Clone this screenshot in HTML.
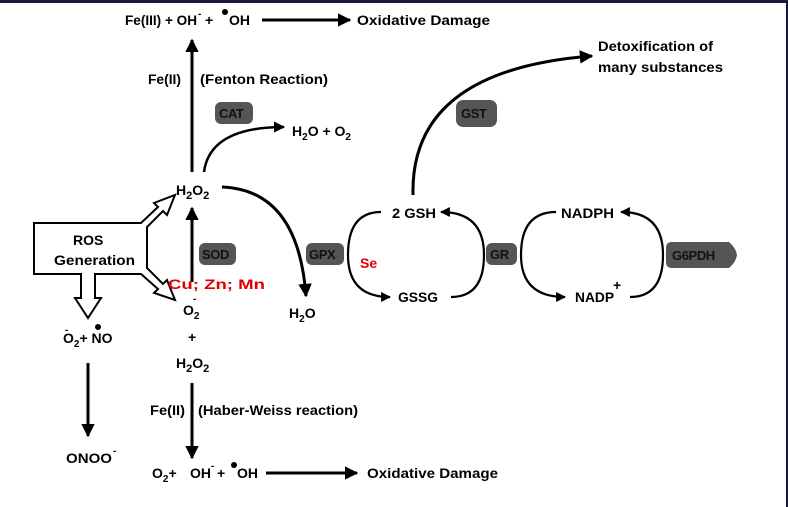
<!DOCTYPE html>
<html><head><meta charset="utf-8"><style>
html,body{margin:0;padding:0;background:#fff;}
svg{display:block;}
text{font-family:"Liberation Sans",sans-serif;font-weight:bold;font-size:14px;fill:#000;}
.e{fill:#111;font-size:13px;letter-spacing:-0.4px;}
.r{fill:#e00000;font-size:14px;}
.s{font-size:10px;}
</style></head><body>
<svg width="788" height="507" viewBox="0 0 788 507" xmlns="http://www.w3.org/2000/svg">
<defs>
<marker id="a" viewBox="0 0 10 10" refX="9" refY="5" markerWidth="4.5" markerHeight="4.5" orient="auto" markerUnits="strokeWidth"><path d="M0,0 L10,5 L0,10 z" fill="#000"/></marker>
</defs>
<rect x="0" y="0" width="788" height="3" fill="#1a1a40"/>
<rect x="786" y="0" width="2" height="507" fill="#1a1a40"/>

<!-- top line -->
<text x="125" y="25" textLength="72" lengthAdjust="spacingAndGlyphs">Fe(III) + OH</text>
<text x="198" y="17" class="s">-</text>
<text x="205" y="25">+</text>
<circle cx="225" cy="12" r="3" fill="#000"/>
<text x="229" y="25">OH</text>
<line x1="262" y1="20" x2="350" y2="20" stroke="#000" stroke-width="3" marker-end="url(#a)"/>
<text x="357" y="25" textLength="133" lengthAdjust="spacingAndGlyphs">Oxidative Damage</text>

<!-- Fenton arrow -->
<line x1="192" y1="172" x2="192" y2="40" stroke="#000" stroke-width="3" marker-end="url(#a)"/>
<text x="148" y="84" textLength="33" lengthAdjust="spacingAndGlyphs">Fe(II)</text>
<text x="200" y="84" textLength="128" lengthAdjust="spacingAndGlyphs">(Fenton Reaction)</text>

<!-- CAT -->
<rect x="215" y="102" width="38" height="22" rx="6" fill="#555"/>
<text x="219" y="118" class="e">CAT</text>
<path d="M204,172 Q210,127 284,127" fill="none" stroke="#000" stroke-width="2.5" marker-end="url(#a)"/>
<text x="292" y="136">H<tspan font-size="10" dy="4">2</tspan><tspan dy="-4">O  +  O</tspan><tspan font-size="10" dy="4">2</tspan></text>

<!-- H2O2 -->
<text x="176" y="195">H<tspan font-size="11" dy="4">2</tspan><tspan dy="-4">O</tspan><tspan font-size="11" dy="4">2</tspan></text>
<path d="M222,187 Q298,190 306,296" fill="none" stroke="#000" stroke-width="3" marker-end="url(#a)"/>
<text x="289" y="318">H<tspan font-size="10" dy="4">2</tspan><tspan dy="-4">O</tspan></text>

<!-- ROS -->
<path d="M34,223 L141,223 L158,207 L154,203 L175,195 L167,215 L163,211 L147,227 L147,268 L163,284 L167,280 L175,300 L154,293 L158,289 L141,274 L95,274 L95,298 L101,298 L88,318 L75,298 L81,298 L81,274 L34,274 Z" fill="#fff" stroke="#000" stroke-width="2"/>
<text x="73" y="245">ROS</text>
<text x="54" y="265" textLength="81" lengthAdjust="spacingAndGlyphs">Generation</text>

<!-- SOD arrow -->
<line x1="192" y1="282" x2="192" y2="208" stroke="#000" stroke-width="3" marker-end="url(#a)"/>
<rect x="199" y="243" width="37" height="22" rx="6" fill="#555"/>
<text x="202" y="259" class="e">SOD</text>
<text x="168" y="289" class="r" textLength="97" lengthAdjust="spacingAndGlyphs">Cu; Zn; Mn</text>

<!-- O2- + H2O2 -->
<text x="183" y="315">O<tspan font-size="10" dy="4">2</tspan></text>
<text x="193" y="302" class="s">-</text>
<text x="188" y="342">+</text>
<text x="176" y="368">H<tspan font-size="11" dy="4">2</tspan><tspan dy="-4">O</tspan><tspan font-size="11" dy="4">2</tspan></text>
<line x1="192" y1="383" x2="192" y2="458" stroke="#000" stroke-width="3" marker-end="url(#a)"/>
<text x="150" y="415" textLength="35" lengthAdjust="spacingAndGlyphs">Fe(II)</text>
<text x="198" y="415" textLength="160" lengthAdjust="spacingAndGlyphs">(Haber-Weiss reaction)</text>

<!-- bottom line -->
<text x="152" y="478">O<tspan font-size="10" dy="4">2</tspan><tspan dy="-4">+</tspan></text>
<text x="190" y="478">OH</text>
<text x="211" y="469" class="s">-</text>
<text x="217" y="478">+</text>
<circle cx="234" cy="465" r="3" fill="#000"/>
<text x="237" y="478">OH</text>
<line x1="266" y1="473" x2="357" y2="473" stroke="#000" stroke-width="3" marker-end="url(#a)"/>
<text x="367" y="478" textLength="131" lengthAdjust="spacingAndGlyphs">Oxidative Damage</text>

<!-- left NO -->
<text x="63" y="343">O<tspan font-size="10" dy="4">2</tspan><tspan dy="-4">+  NO</tspan></text>
<text x="65" y="333" class="s">-</text>
<circle cx="98" cy="327" r="3" fill="#000"/>
<line x1="88" y1="363" x2="88" y2="436" stroke="#000" stroke-width="3" marker-end="url(#a)"/>
<text x="66" y="463" textLength="46" lengthAdjust="spacingAndGlyphs">ONOO</text>
<text x="113" y="454" class="s">-</text>

<!-- GPX -->
<rect x="306" y="243" width="38" height="22" rx="6" fill="#555"/>
<text x="309" y="259" class="e">GPX</text>
<text x="360" y="268" class="r">Se</text>

<!-- GSH cycle -->
<text x="392" y="218" textLength="44" lengthAdjust="spacingAndGlyphs">2 GSH</text>
<text x="398" y="302" textLength="40" lengthAdjust="spacingAndGlyphs">GSSG</text>
<path d="M381,212 Q348,212 348,255 Q348,297 390,297" fill="none" stroke="#000" stroke-width="2.2" marker-end="url(#a)"/>
<path d="M451,297 Q484,297 484,255 Q484,212 441,212" fill="none" stroke="#000" stroke-width="2.2" marker-end="url(#a)"/>
<rect x="486" y="243" width="31" height="22" rx="6" fill="#555"/>
<text x="490" y="259" class="e">GR</text>

<!-- NADPH cycle -->
<text x="561" y="218" textLength="53" lengthAdjust="spacingAndGlyphs">NADPH</text>
<text x="575" y="302" textLength="39" lengthAdjust="spacingAndGlyphs">NADP</text>
<text x="613" y="290" font-size="12">+</text>
<path d="M556,212 Q521,212 521,255 Q521,297 565,297" fill="none" stroke="#000" stroke-width="2.2" marker-end="url(#a)"/>
<path d="M630,297 Q663,297 663,255 Q663,212 621,212" fill="none" stroke="#000" stroke-width="2.2" marker-end="url(#a)"/>
<path d="M672,242 L729,242 Q736,248 737,255 Q736,262 729,268 L672,268 Q666,268 666,262 L666,248 Q666,242 672,242 Z" fill="#555"/>
<text x="672" y="260" class="e">G6PDH</text>

<!-- GST -->
<rect x="456" y="100" width="41" height="27" rx="7" fill="#555"/>
<text x="461" y="118" class="e">GST</text>
<path d="M413,195 Q410,70 592,56" fill="none" stroke="#000" stroke-width="3" marker-end="url(#a)"/>
<text x="598" y="51" textLength="115" lengthAdjust="spacingAndGlyphs">Detoxification of</text>
<text x="598" y="72" textLength="125" lengthAdjust="spacingAndGlyphs">many substances</text>
</svg>
</body></html>
